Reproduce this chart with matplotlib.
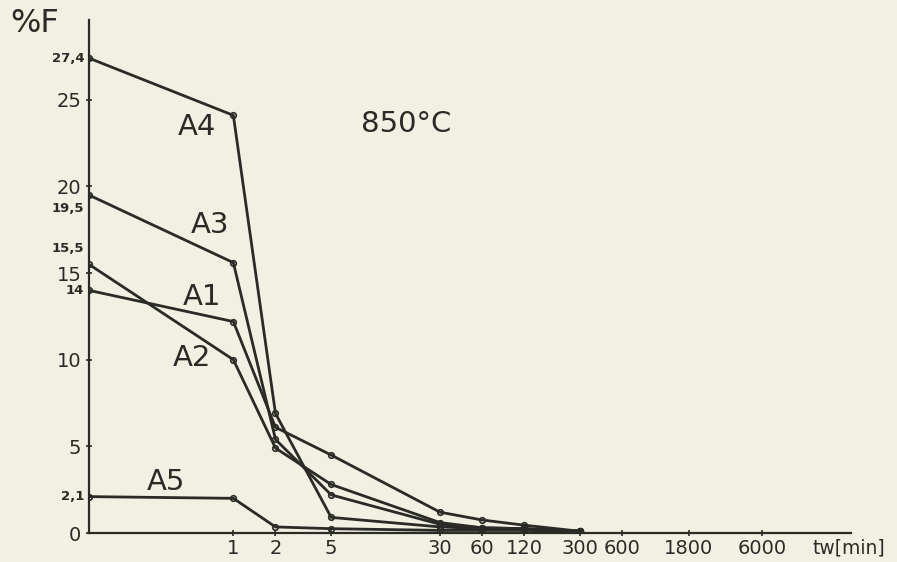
import matplotlib.pyplot as plt
import matplotlib.transforms as mtransforms
from matplotlib.ticker import NullLocator
import numpy as np

# anneal time [min] and fluorine content [%F]
times = [0, 1, 2, 5, 30, 60, 120, 300]
a1 = [14.0, 12.2, 6.1, 4.5, 1.2, 0.75, 0.45, 0.1]
a2 = [15.5, 10.0, 4.9, 2.8, 0.6, 0.3, 0.25, 0.1]
a3 = [19.5, 15.6, 5.4, 2.2, 0.5, 0.3, 0.25, 0.1]
a4 = [27.4, 24.1, 6.9, 0.9, 0.35, 0.25, 0.2, 0.1]
a5 = [2.1, 2.0, 0.35, 0.25, 0.15, 0.15, 0.15, 0.1]

x_ticks = [1, 2, 5, 30, 60, 120, 300, 600, 1800, 6000]
y_ticks = [0, 5, 10, 15, 20, 25]
y_extra = [27.4, 19.5, 15.5, 14, 2.1]
y_extra_labels = ['27,4', '19,5', '15,5', '14', '2,1']

paper = '#f2efe3'
ink = '#2a2a26'


# log time axis, with t=0 pinned a little left of t=1
def fwd(t):
    return np.log10(np.maximum(t, 0.093))


def inv(x):
    return 10 ** np.asarray(x)


fig = plt.figure(figsize=(8.97, 5.62), dpi=100, facecolor=paper)
ax = fig.add_axes([0.0992, 0.0516, 0.849, 0.9128], facecolor=paper)
ax.set_xscale('function', functions=(fwd, inv))
ax.set_xlim(0, 25700)
ax.set_ylim(0, 29.6)

series = [('A1', a1), ('A2', a2), ('A3', a3), ('A4', a4), ('A5', a5)]
for name, vals in series:
    ax.plot(times, vals, color=ink, lw=2.0, marker='o', ms=4,
            mfc='none', mec=ink, mew=1.2)

for s in ['top', 'right']:
    ax.spines[s].set_visible(False)
for s in ['left', 'bottom']:
    ax.spines[s].set_color(ink)
    ax.spines[s].set_linewidth(1.6)

ax.set_xticks(x_ticks)
ax.set_xticklabels([str(v) for v in x_ticks])
ax.xaxis.set_minor_locator(NullLocator())
ax.set_yticks(y_ticks)
ax.set_yticklabels([str(v) for v in y_ticks])
ax.tick_params(axis='both', colors=ink, labelsize=14, direction='inout',
               length=5, width=1.2)
ax.tick_params(axis='x', pad=2)
ax.tick_params(axis='y', pad=3)

# small value labels on the y axis
ytrans = mtransforms.blended_transform_factory(ax.transAxes, ax.transData)
offsets = [0, -0.8, 0.9, 0, 0]
for v, lab, off in zip(y_extra, y_extra_labels, offsets):
    ax.text(-0.006, v + off, lab, transform=ytrans, ha='right', va='center',
            fontsize=9.5, color=ink, fontweight='bold')

# series names
ax.text(0.55, 23.4, 'A4', fontsize=21, color=ink, ha='center', va='center')
ax.text(0.685, 17.8, 'A3', fontsize=21, color=ink, ha='center', va='center')
ax.text(0.6, 13.6, 'A1', fontsize=21, color=ink, ha='center', va='center')
ax.text(0.51, 10.1, 'A2', fontsize=21, color=ink, ha='center', va='center')
ax.text(0.33, 2.95, 'A5', fontsize=21, color=ink, ha='center', va='center')
ax.text(17.2, 23.6, '850°C', fontsize=21, color=ink, ha='center', va='center')

fig.text(0.039, 0.959, '%F', fontsize=23, color=ink, ha='center', va='center')
xtrans = mtransforms.blended_transform_factory(ax.transAxes, ax.transAxes)
ax.text(0.998, -0.03, 'tw[min]', transform=xtrans, fontsize=13.5, color=ink,
        ha='center', va='center')

fig.savefig('out.png', dpi=100, facecolor=paper)
